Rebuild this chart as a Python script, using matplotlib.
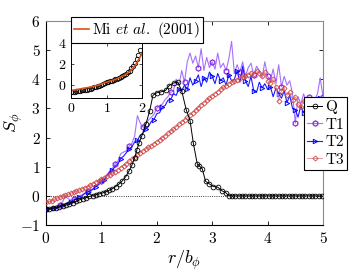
import numpy as np
import matplotlib.pyplot as plt

plt.rcParams["font.family"] = "serif"
plt.rcParams["font.serif"] = ["cmr10", "DejaVu Serif"]
plt.rcParams["mathtext.fontset"] = "cm"
plt.rcParams["axes.formatter.use_mathtext"] = True
plt.rcParams["axes.unicode_minus"] = True

# --- Q: main panel ---
r_q = [0.00, 0.06, 0.12, 0.18, 0.24, 0.30, 0.36, 0.42, 0.48, 0.54,
       0.60, 0.66, 0.72, 0.78, 0.84, 0.90, 0.96, 1.02, 1.08, 1.14,
       1.20, 1.26, 1.32, 1.38, 1.44, 1.50, 1.55, 1.60, 1.64, 1.68,
       1.73, 1.80, 1.87, 1.93, 2.00, 2.08, 2.16, 2.22, 2.31, 2.38,
       2.45, 2.53, 2.60, 2.66, 2.73, 2.76, 2.82, 2.88, 2.95, 3.02,
       3.10, 3.18, 3.25, 3.30, 3.36, 3.42, 3.48, 3.54, 3.60, 3.66,
       3.72, 3.78, 3.84, 3.90, 3.96, 4.02, 4.08, 4.14, 4.20, 4.26,
       4.32, 4.38, 4.44, 4.50, 4.56, 4.62, 4.68, 4.74, 4.80, 4.86,
       4.92, 4.98]
s_q = [-0.45, -0.44, -0.42, -0.40, -0.37, -0.34, -0.31, -0.27, -0.23, -0.19,
       -0.14, -0.10, -0.06, -0.02, 0.01, 0.04, 0.07, 0.10, 0.14, 0.19,
       0.25, 0.32, 0.41, 0.52, 0.66, 0.86, 1.05, 1.30, 1.58, 1.82,
       2.06, 2.45, 2.90, 3.45, 3.54, 3.57, 3.62, 3.78, 3.88, 3.90,
       3.60, 2.96, 2.58, 1.80, 1.10, 1.04, 0.93, 0.50, 0.41, 0.32,
       0.30, 0.17, 0.10, 0.01, 0.00, 0.00, 0.00, 0.00, 0.00, 0.00,
       0.00, 0.00, 0.00, 0.00, 0.00, 0.00, 0.00, 0.00, 0.00, 0.00,
       0.00, 0.00, 0.00, 0.00, 0.00, 0.00, 0.00, 0.00, 0.00, 0.00,
       0.00, 0.00]

# --- T1, T2, T3 on a common grid ---
r_t = [0.00, 0.05, 0.10, 0.15, 0.20, 0.25, 0.30, 0.35, 0.40, 0.45,
       0.50, 0.55, 0.60, 0.65, 0.70, 0.75, 0.80, 0.85, 0.90, 0.95,
       1.00, 1.05, 1.10, 1.15, 1.20, 1.25, 1.30, 1.35, 1.40, 1.45,
       1.50, 1.55, 1.60, 1.65, 1.70, 1.75, 1.80, 1.85, 1.90, 1.95,
       2.00, 2.05, 2.10, 2.15, 2.20, 2.25, 2.30, 2.35, 2.40, 2.45,
       2.50, 2.55, 2.60, 2.65, 2.70, 2.75, 2.80, 2.85, 2.90, 2.95,
       3.00, 3.05, 3.10, 3.15, 3.20, 3.25, 3.30, 3.35, 3.40, 3.45,
       3.50, 3.55, 3.60, 3.65, 3.70, 3.75, 3.80, 3.85, 3.90, 3.95,
       4.00, 4.05, 4.10, 4.15, 4.20, 4.25, 4.30, 4.35, 4.40, 4.45,
       4.50, 4.55, 4.60, 4.65, 4.70, 4.75, 4.80, 4.85, 4.90, 4.95,
       5.00]
s_t1 = [-0.45, -0.44, -0.40, -0.38, -0.33, -0.30, -0.20, -0.02, -0.10, -0.15,
        -0.10, -0.06, 0.00, 0.04, 0.10, 0.15, 0.20, 0.26, 0.34, 0.42,
        0.52, 0.62, 0.72, 0.85, 0.95, 1.10, 1.20, 1.45, 1.50, 1.55,
        1.70, 1.80, 2.05, 2.75, 2.50, 2.35, 2.45, 2.60, 2.70, 2.80,
        3.00, 3.10, 3.15, 3.30, 3.40, 3.55, 3.60, 4.00, 3.80, 4.30,
        3.90, 4.60, 4.90, 4.55, 4.80, 4.40, 5.05, 4.30, 4.75, 4.40,
        4.60, 4.35, 4.90, 4.40, 4.55, 4.30, 4.70, 5.30, 4.20, 4.50,
        4.25, 4.60, 4.10, 4.40, 4.55, 4.15, 4.45, 4.30, 4.05, 4.60,
        4.10, 3.95, 4.35, 3.85, 4.50, 3.75, 4.10, 3.80, 3.95, 3.50,
        2.50, 3.40, 3.15, 3.50, 3.20, 3.40, 3.10, 3.30, 3.50, 4.05,
        3.40]
s_t2 = [-0.50, -0.47, -0.46, -0.42, -0.41, -0.36, -0.32, -0.28, -0.22, -0.20,
        -0.14, -0.10, -0.03, 0.00, 0.08, 0.12, 0.18, 0.22, 0.32, 0.38,
        0.48, 0.55, 0.68, 0.82, 0.88, 1.02, 1.10, 1.28, 1.36, 1.48,
        1.62, 1.68, 1.85, 1.90, 2.08, 2.15, 2.30, 2.38, 2.55, 2.62,
        2.82, 2.85, 3.05, 3.10, 3.28, 3.30, 3.50, 3.45, 3.68, 3.60,
        3.80, 3.65, 4.05, 3.80, 3.95, 4.15, 3.75, 4.05, 3.90, 4.25,
        4.10, 3.85, 4.20, 3.95, 4.05, 3.80, 4.15, 3.95, 4.00, 4.30,
        3.90, 4.45, 3.95, 3.75, 4.10, 3.60, 3.55, 3.90, 3.70, 3.85,
        3.65, 3.75, 3.40, 3.70, 3.50, 3.35, 3.60, 3.20, 3.45, 3.00,
        2.95, 2.70, 3.10, 2.85, 3.00, 2.80, 3.10, 3.00, 3.20, 3.35,
        3.10]
s_t3 = [-0.22, -0.19, -0.16, -0.12, -0.09, -0.05, -0.02, 0.02, 0.05, 0.09,
        0.12, 0.16, 0.20, 0.24, 0.28, 0.32, 0.37, 0.42, 0.47, 0.52,
        0.57, 0.62, 0.67, 0.72, 0.77, 0.83, 0.90, 0.97, 1.04, 1.11,
        1.19, 1.26, 1.33, 1.40, 1.47, 1.54, 1.60, 1.66, 1.72, 1.79,
        1.86, 1.93, 2.00, 2.07, 2.14, 2.21, 2.29, 2.37, 2.45, 2.53,
        2.61, 2.69, 2.78, 2.86, 2.95, 3.03, 3.12, 3.20, 3.28, 3.36,
        3.44, 3.51, 3.58, 3.66, 3.72, 3.78, 3.84, 3.90, 3.95, 3.99,
        4.04, 4.08, 4.12, 4.16, 4.22, 4.18, 4.30, 4.22, 4.10, 4.25,
        3.95, 3.88, 4.00, 3.75, 3.25, 3.60, 3.70, 3.45, 3.55, 3.30,
        3.40, 3.15, 3.05, 3.25, 3.00, 3.15, 3.05, 3.20, 3.10, 3.30,
        3.20]

# --- inset: Q and Mi et al. (2001) ---
r_in = [0.00, 0.05, 0.10, 0.15, 0.20, 0.25, 0.30, 0.35, 0.40, 0.45,
        0.50, 0.55, 0.60, 0.65, 0.70, 0.75, 0.80, 0.85, 0.90, 0.95,
        1.00, 1.05, 1.10, 1.15, 1.20, 1.25, 1.30, 1.35, 1.40, 1.45,
        1.50, 1.55, 1.60, 1.65, 1.70, 1.75, 1.80, 1.85, 1.90, 1.95]
s_in = [-0.65, -0.63, -0.60, -0.58, -0.55, -0.52, -0.49, -0.46, -0.43, -0.40,
        -0.36, -0.31, -0.26, -0.20, -0.14, -0.08, -0.02, 0.05, 0.12, 0.20,
        0.28, 0.35, 0.40, 0.45, 0.51, 0.57, 0.64, 0.71, 0.79, 0.87,
        0.95, 1.07, 1.22, 1.40, 1.60, 1.82, 2.10, 2.45, 2.90, 3.35]
r_mi = [0.00, 0.25, 0.50, 0.75, 1.00, 1.25, 1.50, 1.65, 1.75, 1.85, 1.95, 2.00]
s_mi = [-0.50, -0.35, -0.20, 0.00, 0.30, 0.55, 0.95, 1.30, 1.60, 2.10, 2.70, 3.00]

W, H = 357, 278
fig = plt.figure(figsize=(W / 100, H / 100), dpi=100)
ax = fig.add_axes([46 / W, 1 - 225 / H, 277 / W, 204 / H])

ax.axhline(0, color="black", lw=0.6, ls=":", zorder=1)
ax.plot(r_q, s_q, color="black", lw=0.7, marker="o", ms=3.4, mfc="none",
        mec="black", mew=0.6, label="Q", zorder=4)
ax.plot(r_t, s_t1, color="#a770ff", lw=0.8, marker="h", ms=3.8, mfc="none",
        mec="#8a2be2", mew=0.9, markevery=5, label="T1", zorder=2)
ax.plot(r_t, s_t2, color="#1a1aff", lw=0.8, marker=">", ms=3.2, mfc="none",
        mec="#0000ff", mew=0.7, markevery=3, label="T2", zorder=3)
ax.plot(r_t, s_t3, color="#e58a8a", lw=0.6, marker="D", ms=2.6, mfc="none",
        mec="#d04545", mew=0.6, label="T3", zorder=3)

ax.set_xlim(0, 5)
ax.set_ylim(-1, 6)
ax.set_xticks([0, 1, 2, 3, 4, 5])
ax.set_yticks([-1, 0, 1, 2, 3, 4, 5, 6])
ax.tick_params(direction="in", top=True, right=True, length=3, width=0.6,
               labelsize=11, pad=4)
for side in ["top", "right"]:
    ax.spines[side].set_color("#8c8c8c")
for sp in ax.spines.values():
    sp.set_linewidth(0.8)
ax.set_xlabel(r"$r/b_\phi$", fontsize=13, labelpad=2)
ax.set_ylabel(r"$S_\phi$", fontsize=13)
ax.yaxis.set_label_coords(-0.075, 0.5)

leg = ax.legend(loc="upper left", bbox_to_anchor=(304 / W, 1 - 97 / H),
                bbox_transform=fig.transFigure, borderaxespad=0,
                fontsize=11, handlelength=1.0, handletextpad=0.2,
                borderpad=0.2, labelspacing=0.25, fancybox=False,
                framealpha=1, edgecolor="black")
leg.get_frame().set_linewidth(0.8)

# inset
axi = fig.add_axes([71 / W, 1 - 98 / H, 71 / W, 55 / H])
axi.plot(r_in, s_in, ls="none", marker="o", ms=3.2, mfc="none", mec="black",
         mew=0.6)
mi_line, = axi.plot(r_mi, s_mi, color="#d95319", lw=1.2,
                    label=r"Mi $\mathit{et\ al.}$ (2001)")
axi.set_xlim(0, 2)
axi.set_ylim(-1.2, 4)
axi.set_xticks([0, 1, 2])
axi.set_yticks([0, 2, 4])
axi.tick_params(direction="in", top=True, right=True, length=2, width=0.5,
                labelsize=10, pad=3)
for sp in axi.spines.values():
    sp.set_linewidth(0.7)

legi = fig.legend(handles=[mi_line], loc="lower left",
                  bbox_to_anchor=(71 / W, 1 - 43 / H), borderaxespad=0,
                  fontsize=11, handlelength=1.0, handletextpad=0.2,
                  borderpad=0.2, fancybox=False, framealpha=1,
                  edgecolor="black")
legi.get_frame().set_linewidth(0.8)

fig.savefig("out.png", dpi=100)
